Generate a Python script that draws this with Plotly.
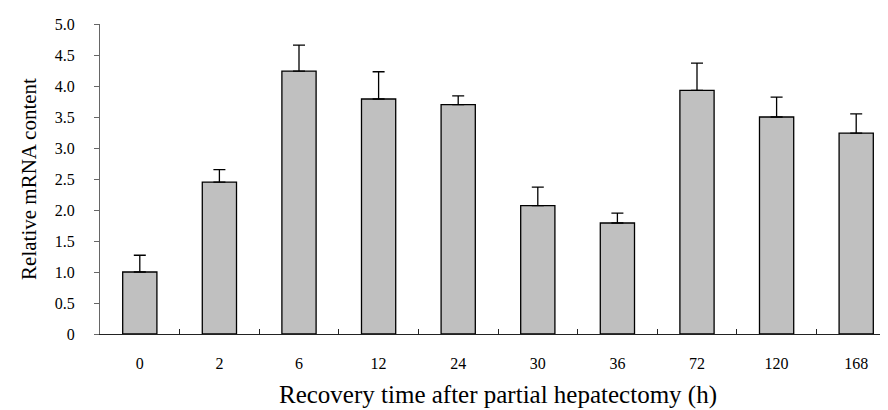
import plotly.graph_objects as go

categories = ["0", "2", "6", "12", "24", "30", "36", "72", "120", "168"]
values = [1.00, 2.45, 4.24, 3.79, 3.70, 2.07, 1.79, 3.93, 3.50, 3.24]
errors = [0.27, 0.20, 0.42, 0.44, 0.14, 0.30, 0.16, 0.44, 0.32, 0.31]
ytick_vals = [0, 0.5, 1.0, 1.5, 2.0, 2.5, 3.0, 3.5, 4.0, 4.5, 5.0]
ytick_text = ["0", "0.5", "1.0", "1.5", "2.0", "2.5", "3.0", "3.5", "4.0", "4.5", "5.0"]

font_family = "Liberation Serif, Times New Roman, serif"

fig = go.Figure(go.Bar(
    x=categories, y=values, width=0.43,
    marker=dict(color="#c0c0c0", line=dict(color="#000000", width=1.3)),
    error_y=dict(type="data", symmetric=False, array=errors,
                 arrayminus=[0] * len(errors), color="#000000", thickness=1.3, width=6),
))

fig.update_layout(
    width=888, height=410,
    margin=dict(l=92, r=0, t=16, b=84),
    paper_bgcolor="white", plot_bgcolor="white",
    showlegend=False,
    font=dict(family=font_family, color="#000000", size=16),
    bargap=0.57,
)
fig.update_xaxes(
    type="category", showline=True, linecolor="#222222", linewidth=1.3,
    ticks="inside", tickson="boundaries", ticklen=5, tickcolor="#222222",
    ticklabelstandoff=15, tickfont=dict(size=16, family=font_family),
    title=dict(text="Recovery time after partial hepatectomy (h)", font=dict(size=25, family=font_family), standoff=14),
    showgrid=False, zeroline=False, automargin=False,
)
fig.update_yaxes(
    range=[0, 5.0], tickvals=ytick_vals, ticktext=ytick_text,
    showline=True, linecolor="#666666", linewidth=1.3,
    ticks="outside", ticklen=5, tickcolor="#666666",
    ticklabelstandoff=16, tickfont=dict(size=16, family=font_family),
    title=dict(text="Relative mRNA content", font=dict(size=21, family=font_family), standoff=12),
    showgrid=False, zeroline=False, automargin=False,
)

fig.write_html("out.html")
